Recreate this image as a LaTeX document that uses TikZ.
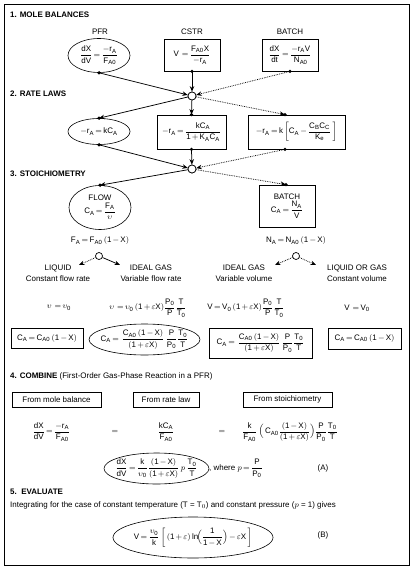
\documentclass[tikz,border=0pt]{standalone}
\usepackage{amsmath}
\usepackage{fontspec}
\setmainfont{Liberation Sans}
\DeclareSymbolFont{operators}{TU}{\rmdefault}{m}{n}
\usetikzlibrary{shapes.geometric,arrows.meta}
\newcommand{\rmm}[1]{\mathrm{#1}}
\thickmuskip=3mu plus 2mu
\medmuskip=2.5mu plus 1mu
\tikzset{
  every node/.style={font=\fontsize{8}{10}\selectfont, inner sep=0pt},
  boxn/.style={draw, line width=0.8bp, rectangle},
  elln/.style={draw, line width=0.6bp, ellipse},
  junc/.style={draw, circle, fill=white, line width=0.7bp, minimum size=8bp},
  head/.style={anchor=west, font=\fontsize{8}{10}\selectfont\bfseries},
  arr/.style={-{Stealth[length=5.5bp,width=4.5bp]}, line width=0.75bp},
  darr/.style={arr, densely dotted},
  lab/.style={align=center, font=\fontsize{8}{11}\selectfont},
}
\begin{document}
\begin{tikzpicture}[x=1bp,y=-1bp]
\useasboundingbox (0,0) rectangle (415,573);
\draw[line width=1bp] (4.5,5) rectangle (409,565);

% ---- 1. Mole balances
\node[head] (h1) at (10,15) {1. MOLE BALANCES};
\node (lpfr) at (100,32) {PFR};
\node (lcstr) at (192,32) {CSTR};
\node (lbatch) at (290,32) {BATCH};
\node[elln, minimum width=62bp, minimum height=34bp] (pfr) at (99,55.5) {};
\node (pfrt) at (pfr.center)
  {$\dfrac{\rmm{dX}}{\rmm{dV}}=\dfrac{-\rmm{r_A}}{\rmm{F_{A0}}}$};
\node[boxn, minimum width=56bp, minimum height=32bp] (cstr) at (192,55)
  {$\rmm{V}\;=\dfrac{\rmm{F_{A0}X}}{-\rmm{r_A}}$};
\node[boxn, minimum width=56bp, minimum height=32bp] (batch) at (290,55)
  {$\dfrac{\rmm{dX}}{\rmm{dt}}=\dfrac{-\rmm{r_AV}}{\rmm{N_{A0}}}$};
\node[junc] (j1) at (192,96) {};

% ---- 2. Rate laws
\node[head] (h2) at (10,94) {2. RATE LAWS};
\node[elln, minimum width=62bp, minimum height=26bp] (rl1) at (99,131.5) {};
\node (rl1t) at (rl1.center) {$-\rmm{r_A}=\rmm{kC_A}$};
\node[boxn, minimum width=69bp, minimum height=34bp] (rl2) at (191.5,132)
  {$-\rmm{r_A}=\dfrac{\rmm{kC_A}}{\rmm{1}+\rmm{K_AC_A}}$};
\node[boxn, minimum width=97bp, minimum height=34bp] (rl3) at (296.5,132)
  {$-\rmm{r_A}=\rmm{k}\left[\rmm{C_A}-\dfrac{\rmm{C_BC_C}}{\rmm{K_e}}\,\right]$};
\node[junc] (j2) at (192,169) {};

% ---- 3. Stoichiometry
\node[head] (h3) at (10,174) {3. STOICHIOMETRY};
\node[elln, minimum width=62bp, minimum height=44bp] (flow) at (100,207.5) {};
\node[align=center] (flowt) at (flow.center)
  {FLOW\\[1bp]$\rmm{C_A}=\dfrac{\rmm{F_A}}{\upsilon}$};
\node[boxn, minimum width=56bp, minimum height=42bp, align=center] (sbatch) at (287,206)
  {BATCH\\[1bp]$\rmm{C_A}=\dfrac{\rmm{N_A}}{\rmm{V}}$};
\node (fa) at (100,241) {$\rmm{F_A}=\rmm{F_{A0}}\,(\rmm{1}-\rmm{X})$};
\node (na) at (296,241) {$\rmm{N_A}=\rmm{N_{A0}}\,(\rmm{1}-\rmm{X})$};
\node[junc, minimum size=7bp] (j3) at (99,256) {};
\node[junc, minimum size=7bp] (j4) at (296,256) {};
\node[lab] (liq) at (58,273.5) {LIQUID\\Constant flow rate};
\node[lab] (ig1) at (151,273.5) {IDEAL GAS\\Variable flow rate};
\node[lab] (ig2) at (244,273.5) {IDEAL GAS\\Variable volume};
\node[lab] (lg) at (357,273.5) {LIQUID OR GAS\\Constant volume};
\coordinate (t1) at (79,265);
\coordinate (t2) at (120,265);
\coordinate (t3) at (275,265);
\coordinate (t4) at (316,265);

\node (e1) at (59,308) {$\upsilon\,=\upsilon_{\rmm{0}}$};
\node (e2) at (148,308) {$\upsilon\,=\upsilon_{\rmm{0}}\,(\rmm{1}+\varepsilon\rmm{X})\dfrac{\rmm{P_0}}{\rmm{P}}\dfrac{\rmm{T}}{\rmm{T_0}}$};
\node (e3) at (246,308) {$\rmm{V}=\rmm{V_0}\,(\rmm{1}+\varepsilon\rmm{X})\dfrac{\rmm{P_0}}{\rmm{P}}\dfrac{\rmm{T}}{\rmm{T_0}}$};
\node (e4) at (357,308) {$\rmm{V}\,=\rmm{V_0}$};

\node[boxn, minimum width=72bp, minimum height=20bp] (c1) at (47,338.5)
  {$\rmm{C_A}=\rmm{C_{A0}}\,(\rmm{1}-\rmm{X})$};
\node[elln, minimum width=111bp, minimum height=31bp] (c2) at (144.5,339.5) {};
\node (c2t) at (c2.center)
  {$\rmm{C_A}=\,\dfrac{\rmm{C_{A0}}\,(\rmm{1}-\rmm{X})}{(\rmm{1}+\varepsilon\rmm{X})}\,\dfrac{\rmm{P}}{\rmm{P_0}}\dfrac{\rmm{T_0}}{\rmm{T}}$};
\node[boxn, minimum width=103bp, minimum height=30bp] (c3) at (260.5,343)
  {$\rmm{C_A}=\,\dfrac{\rmm{C_{A0}}\,(\rmm{1}-\rmm{X})}{(\rmm{1}+\varepsilon\rmm{X})}\,\dfrac{\rmm{P}}{\rmm{P_0}}\dfrac{\rmm{T_0}}{\rmm{T}}$};
\node[boxn, minimum width=73bp, minimum height=21bp] (c4) at (364.5,338.5)
  {$\rmm{C_A}=\rmm{C_{A0}}\,(\rmm{1}-\rmm{X})$};

% ---- 4. Combine
\node[anchor=west] (h4) at (10,376) {\textbf{4. COMBINE} (First-Order Gas-Phase Reaction in a PFR)};
\node[boxn, minimum width=89bp, minimum height=15bp] (fm) at (56.5,399.5) {From mole balance};
\node[boxn, minimum width=66bp, minimum height=15bp] (fr) at (166,399.5) {From rate law};
\node[boxn, minimum width=89bp, minimum height=15bp] (fs) at (287.5,399.5) {From stoichiometry};
\node (q1) at (51.5,432) {$\dfrac{\rmm{dX}}{\rmm{dV}}=\dfrac{-\rmm{r_A}}{\rmm{F_{A0}}}$};
\node (qe1) at (115,432) {$=$};
\node (q2) at (166,432) {$\dfrac{\rmm{kC_A}}{\rmm{F_{A0}}}$};
\node (qe2) at (222,432) {$=$};
\node (q3) at (290,432) {$\dfrac{\rmm{k}}{\rmm{F_{A0}}}\,\Bigl(\,\rmm{C_{A0}}\dfrac{(\rmm{1}-\rmm{X})}{(\rmm{1}+\varepsilon\rmm{X})}\Bigr)\dfrac{\rmm{P}}{\rmm{P_0}}\dfrac{\rmm{T_0}}{\rmm{T}}$};
\node[elln, minimum width=105bp, minimum height=31bp] (qa) at (156.5,468.5) {};
\node (qat) at (qa.center)
  {$\dfrac{\rmm{dX}}{\rmm{dV}}=\dfrac{\rmm{k}}{\upsilon_{\rmm{0}}}\dfrac{(\rmm{1}-\rmm{X})}{(\rmm{1}+\varepsilon\rmm{X})}\,p\,\dfrac{\rmm{T_0}}{\rmm{T}}$};
\node[anchor=west] (wh) at (209,468.5) {, where $p=\dfrac{\rmm{P}}{\rmm{P_0}}$};
\node (la) at (323,468) {(A)};

% ---- 5. Evaluate
\node[head] (h5) at (10,492) {5.\ \ EVALUATE};
\node[anchor=west] (it) at (10,505) {Integrating for the case of constant temperature (T = T$_0$) and constant pressure ($p$ = 1) gives};
\node[elln, minimum width=160bp, minimum height=41bp] (qb) at (193,537.5) {};
\node (qbt) at (qb.center)
  {$\rmm{V}=\dfrac{\upsilon_{\rmm{0}}}{\rmm{k}}\left[\,(\rmm{1}+\varepsilon)\ln\!\Bigl(\dfrac{\rmm{1}}{\rmm{1}-\rmm{X}}\Bigr)-\varepsilon\rmm{X}\,\right]$};
\node (lb) at (323,535) {(B)};

% ---- connectors
\draw[arr] (pfr.south) -- (j1);
\draw[arr] (cstr.south) -- (j1);
\draw[darr] (batch.south) -- (j1);
\draw[arr] (j1) -- (rl1.north);
\draw[arr] (j1) -- (rl2.north);
\draw[darr] (j1) -- ([xshift=-11.5bp]rl3.north);
\draw[arr] (rl1.south) -- (j2);
\draw[arr] (rl2.south) -- (j2);
\draw[darr] ([xshift=-11.5bp]rl3.south) -- (j2);
\draw[arr] (j2) -- (flow.north);
\draw[darr] (j2) -- ([xshift=-1bp]sbatch.north);
\draw[darr] (j3) -- (t1);
\draw[arr] (j3) -- (t2);
\draw[darr] (j4) -- (t3);
\draw[darr] (j4) -- (t4);
\node[junc] (j1b) at (j1) {};
\node[junc] (j2b) at (j2) {};
% dots
\foreach \p in {pfr.south, cstr.south, batch.south, rl1.north, rl2.north, rl1.south, rl2.south, flow.north}
  \fill (\p) circle (1.8bp);
\fill ([xshift=-11.5bp]rl3.north) circle (1.8bp);
\fill ([xshift=-11.5bp]rl3.south) circle (1.8bp);
\fill ([xshift=-1bp]sbatch.north) circle (1.8bp);
\end{tikzpicture}
\end{document}
